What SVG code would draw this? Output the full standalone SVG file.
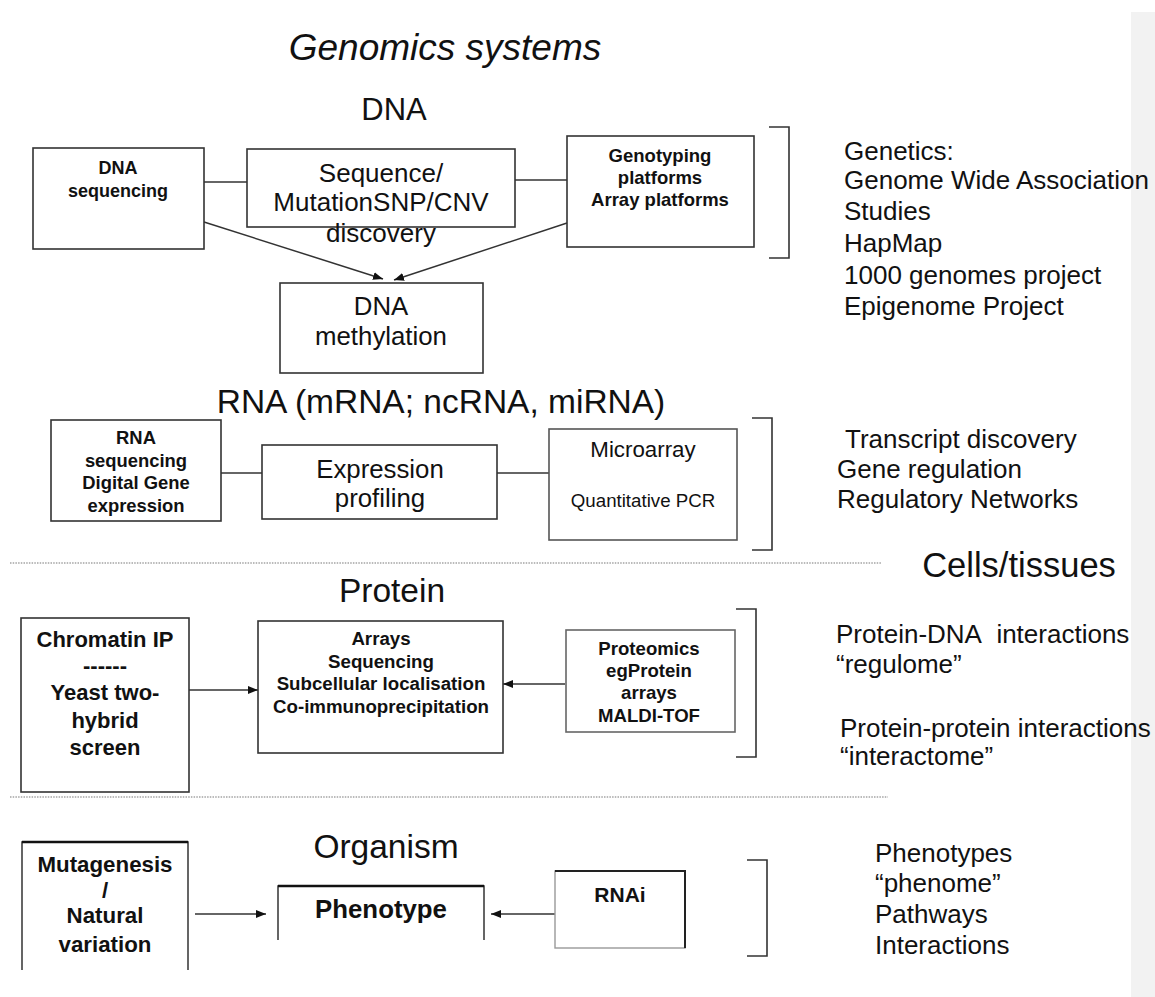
<svg xmlns="http://www.w3.org/2000/svg" width="1155" height="997" viewBox="0 0 1155 997">
<style>
text{font-family:"Liberation Sans",Arial,sans-serif;fill:#111}
.h{font-size:33.5px;text-anchor:middle}
.r{font-size:26px}
.b{font-weight:bold;text-anchor:middle}
.m{text-anchor:middle}
.box{fill:#fff;stroke:#333;stroke-width:1.6}
.ln{stroke:#333;stroke-width:1.5;fill:none}
.br{stroke:#333;stroke-width:1.6;fill:none}
.dot{stroke:#777;stroke-width:1.2;stroke-dasharray:1.5 1.2;fill:none}
</style>
<defs>
<marker id="ah" markerWidth="10" markerHeight="8" refX="10" refY="4" orient="auto" markerUnits="userSpaceOnUse">
<path d="M0,0 L10,4 L0,8 Z" fill="#111"/>
</marker>
</defs>
<rect width="1155" height="997" fill="#fff"/>
<rect x="1131" y="12" width="24" height="985" fill="#f2f2f2"/>

<g id="headings">
<text x="445" y="60" style="font-size:37px;font-style:italic;text-anchor:middle">Genomics systems</text>
<text class="h" x="394" y="120" style="font-size:31px">DNA</text>
<text class="h" x="441" y="413">RNA (mRNA; ncRNA, miRNA)</text>
<text class="h" x="392" y="602">Protein</text>
<text class="h" x="386" y="858">Organism</text>
<text x="1019" y="577" style="font-size:34.5px;text-anchor:middle">Cells/tissues</text>
</g>

<g id="dividers">
<line class="dot" x1="10" y1="563" x2="881" y2="563"/>
<line class="dot" x1="10" y1="797" x2="888" y2="797"/>
</g>

<g id="connectors">
<line class="ln" x1="204" y1="182" x2="247" y2="182"/>
<line class="ln" x1="515" y1="180" x2="567" y2="180"/>
<line class="ln" x1="204" y1="222" x2="383" y2="279" marker-end="url(#ah)"/>
<line class="ln" x1="567" y1="223" x2="394" y2="280" marker-end="url(#ah)"/>
<line class="ln" x1="221" y1="473" x2="262" y2="473"/>
<line class="ln" x1="497" y1="473" x2="549" y2="473"/>
<line class="ln" x1="189" y1="690" x2="258" y2="690" marker-end="url(#ah)"/>
<line class="ln" x1="565" y1="684" x2="503" y2="684" marker-end="url(#ah)"/>
<line class="ln" x1="195" y1="914" x2="266" y2="914" marker-end="url(#ah)"/>
<line class="ln" x1="555" y1="914" x2="491" y2="914" marker-end="url(#ah)"/>
</g>

<g id="dna-sequencing">
<rect class="box" x="33" y="148" width="171" height="101"/>
<text class="b" x="118" y="174" style="font-size:18px">DNA</text>
<text class="b" x="118" y="197" style="font-size:18px">sequencing</text>
</g>
<g id="sequence-discovery">
<rect class="box" x="247" y="149" width="268" height="78"/>
<text class="m" x="381" y="182" style="font-size:26px">Sequence/</text>
<text class="m" x="381" y="211" style="font-size:26px">MutationSNP/CNV</text>
<text class="m" x="381" y="242" style="font-size:26px">discovery</text>
</g>
<g id="genotyping">
<rect class="box" x="567" y="136" width="187" height="111"/>
<text class="b" x="660" y="162" style="font-size:18.5px">Genotyping</text>
<text class="b" x="660" y="184" style="font-size:18.5px">platforms</text>
<text class="b" x="660" y="206" style="font-size:18.5px">Array platforms</text>
</g>
<g id="dna-methylation">
<rect class="box" x="280" y="283" width="203" height="90"/>
<text class="m" x="381" y="315" style="font-size:25.8px">DNA</text>
<text class="m" x="381" y="345" style="font-size:25.8px">methylation</text>
</g>
<g id="dna-bracket">
<path class="br" d="M769,127 H789 V258 H769"/>
<text class="r" x="844" y="160">Genetics:</text>
<text class="r" x="844" y="189">Genome Wide Association</text>
<text class="r" x="844" y="220">Studies</text>
<text class="r" x="844" y="252">HapMap</text>
<text class="r" x="844" y="284">1000 genomes project</text>
<text class="r" x="844" y="315">Epigenome Project</text>
</g>

<g id="rna-sequencing">
<rect class="box" x="51" y="420" width="170" height="101"/>
<text class="b" x="136" y="444" style="font-size:18.4px">RNA</text>
<text class="b" x="136" y="467" style="font-size:18.4px">sequencing</text>
<text class="b" x="136" y="489" style="font-size:18.4px">Digital Gene</text>
<text class="b" x="136" y="512" style="font-size:18.4px">expression</text>
</g>
<g id="expression-profiling">
<rect class="box" x="262" y="445" width="235" height="74"/>
<text class="m" x="380" y="478" style="font-size:25.8px">Expression</text>
<text class="m" x="380" y="507" style="font-size:25.8px">profiling</text>
</g>
<g id="microarray">
<rect class="box" x="549" y="429" width="188" height="111" style="stroke:#555"/>
<text class="m" x="643" y="457" style="font-size:22.3px">Microarray</text>
<text class="m" x="643" y="507" style="font-size:18.7px">Quantitative PCR</text>
</g>
<g id="rna-bracket">
<path class="br" d="M752,418 H772 V550 H752"/>
<text class="r" x="845" y="448">Transcript discovery</text>
<text class="r" x="837" y="478">Gene regulation</text>
<text class="r" x="837" y="508">Regulatory Networks</text>
</g>

<g id="chromatin-ip">
<rect class="box" x="21" y="618" width="168" height="174"/>
<text class="b" x="105" y="647" style="font-size:22px">Chromatin IP</text>
<text class="b" x="105" y="673" style="font-size:22px">------</text>
<text class="b" x="105" y="700" style="font-size:22px">Yeast two-</text>
<text class="b" x="105" y="728" style="font-size:22px">hybrid</text>
<text class="b" x="105" y="755" style="font-size:22px">screen</text>
</g>
<g id="arrays">
<rect class="box" x="258" y="621" width="245" height="132"/>
<text class="b" x="381" y="645" style="font-size:18.7px">Arrays</text>
<text class="b" x="381" y="668" style="font-size:18.7px">Sequencing</text>
<text class="b" x="381" y="690" style="font-size:18.7px">Subcellular localisation</text>
<text class="b" x="381" y="713" style="font-size:18.7px">Co-immunoprecipitation</text>
</g>
<g id="proteomics">
<rect class="box" x="566" y="630" width="169" height="102" style="stroke:#666"/>
<text class="b" x="649" y="655" style="font-size:18.6px">Proteomics</text>
<text class="b" x="649" y="677" style="font-size:18.6px">egProtein</text>
<text class="b" x="649" y="699" style="font-size:18.6px">arrays</text>
<text class="b" x="649" y="722" style="font-size:18.6px">MALDI-TOF</text>
</g>
<g id="protein-bracket">
<path class="br" d="M736,609 H756 V757 H736"/>
<text class="r" x="836" y="643">Protein-DNA&#160; interactions</text>
<text class="r" x="836" y="673">“regulome”</text>
<text class="r" x="840" y="737">Protein-protein interactions</text>
<text class="r" x="840" y="765">“interactome”</text>
</g>

<g id="mutagenesis">
<path class="ln" d="M22,970 V842 H188 V970"/>
<line x1="22" y1="842" x2="188" y2="842" stroke="#111" stroke-width="2.5"/>
<text class="b" x="105" y="872" style="font-size:22.3px">Mutagenesis</text>
<text class="b" x="105" y="898" style="font-size:22.3px">/</text>
<text class="b" x="105" y="923" style="font-size:22.3px">Natural</text>
<text class="b" x="105" y="952" style="font-size:22.3px">variation</text>
</g>
<g id="phenotype">
<path class="ln" d="M278,940 V886 H484 V940"/>
<line x1="278" y1="886" x2="484" y2="886" stroke="#111" stroke-width="2.5"/>
<text class="b" x="381" y="918" style="font-size:25.8px">Phenotype</text>
</g>
<g id="rnai">
<rect x="555" y="871" width="130" height="77" fill="#fff" stroke="#999" stroke-width="1.4"/>
<path d="M555,871 H685 V948" fill="none" stroke="#222" stroke-width="2"/>
<text class="b" x="620" y="902" style="font-size:21px">RNAi</text>
</g>
<g id="organism-bracket">
<path class="br" d="M747,860 H767 V956 H747"/>
<text class="r" x="875" y="862">Phenotypes</text>
<text class="r" x="875" y="892">“phenome”</text>
<text class="r" x="875" y="923">Pathways</text>
<text class="r" x="875" y="954">Interactions</text>
</g>
</svg>
